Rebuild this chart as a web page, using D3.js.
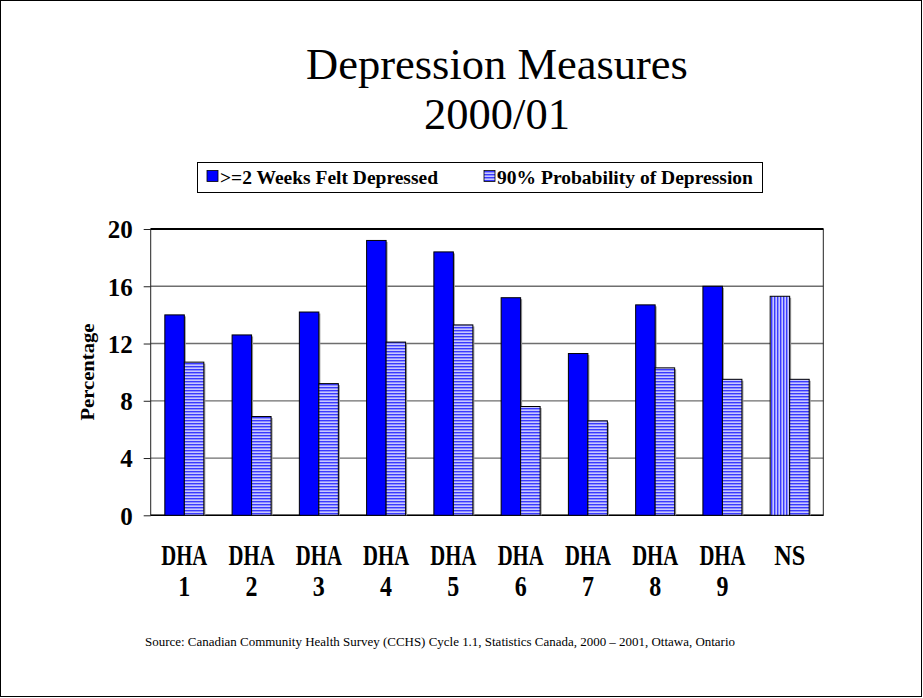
<!DOCTYPE html>
<html><head><meta charset="utf-8">
<script src="https://cdn.jsdelivr.net/npm/d3@7"></script>
<style>body{margin:0;background:#fff}svg{display:block}</style>
</head><body>
<svg id="c" width="923" height="698"></svg>
<script>
const categories = ["DHA 1","DHA 2","DHA 3","DHA 4","DHA 5","DHA 6","DHA 7","DHA 8","DHA 9","NS"];
const seriesNames = [">=2 Weeks Felt Depressed","90% Probability of Depression"];
const feltDepressed = [14.0,12.6,14.2,19.2,18.4,15.2,11.3,14.7,16.0,15.3];
const probDepression = [10.7,6.9,9.2,12.1,13.3,7.6,6.6,10.3,9.5,9.5];
const yTicks = [0,4,8,12,16,20];
const titleLines = ["Depression Measures","2000/01"];
const sourceText = "Source:  Canadian Community Health Survey (CCHS) Cycle 1.1, Statistics Canada, 2000 \u2013 2001, Ottawa, Ontario";

const svg = d3.select("#c");
const serif = "'Liberation Serif','Times New Roman',serif";
const defs = svg.append("defs");
const ph = defs.append("pattern").attr("id","hstripe").attr("patternUnits","userSpaceOnUse").attr("width",4).attr("height",3);
ph.append("rect").attr("width",4).attr("height",3).attr("fill","#c8c8ff");
ph.append("rect").attr("y",0).attr("width",4).attr("height",1.4).attr("fill","#3a3aff");
const pv = defs.append("pattern").attr("id","vstripe").attr("patternUnits","userSpaceOnUse").attr("width",3).attr("height",4);
pv.append("rect").attr("width",3).attr("height",4).attr("fill","#c8c8ff");
pv.append("rect").attr("x",0).attr("width",1.4).attr("height",4).attr("fill","#3a3aff");

svg.append("rect").attr("x",0.5).attr("y",0.5).attr("width",921).attr("height",696).attr("fill","none").attr("stroke","#000");

svg.append("text").attr("x",497).attr("y",79).attr("text-anchor","middle").attr("font-family",serif).attr("font-size",44.5).text(titleLines[0]);
svg.append("text").attr("x",497).attr("y",129).attr("text-anchor","middle").attr("font-family",serif).attr("font-size",44.5).text(titleLines[1]);

const m = {l:150.7, r:823.3, t:229, b:515.3};
const x = d3.scaleBand().domain(categories).range([m.l,m.r]).paddingInner(0).paddingOuter(0);
const y = d3.scaleLinear().domain([0,20]).range([m.b,m.t]);
const bw = 19.5;

svg.append("g").selectAll("line").data(yTicks.filter(t=>t>0&&t<20)).join("line")
  .attr("x1",m.l).attr("x2",m.r).attr("y1",d=>y(d)).attr("y2",d=>y(d))
  .attr("stroke","#6e6e6e").attr("stroke-width",1.3);

const yAxis = d3.axisLeft(y).tickValues(yTicks).tickSize(7).tickPadding(11).tickFormat(d3.format("d"));
const ga = svg.append("g").attr("transform",`translate(${m.l},0)`).call(yAxis);
ga.select(".domain").remove();
ga.selectAll(".tick line").attr("stroke","#222");
ga.selectAll(".tick text").attr("font-family",serif).attr("font-weight","bold").attr("font-size",25).attr("fill","#000").attr("dy","0.35em");

svg.append("rect").attr("x",m.l).attr("y",m.t).attr("width",m.r-m.l).attr("height",m.b-m.t).attr("fill","none").attr("stroke","#222").attr("stroke-width",1);
svg.append("line").attr("x1",m.l).attr("x2",m.r).attr("y1",m.t).attr("y2",m.t).attr("stroke","#000").attr("stroke-width",2);
svg.append("line").attr("x1",m.l).attr("x2",m.r).attr("y1",m.b).attr("y2",m.b).attr("stroke","#000").attr("stroke-width",1.5);

const bars = [];
categories.forEach((c,i)=>{
  const cx = x(c) + x.bandwidth()/2;
  bars.push({c, x: cx-bw, v: feltDepressed[i], fill: c==="NS" ? "url(#vstripe)" : "#0000ff"});
  bars.push({c, x: cx, v: probDepression[i], fill: "url(#hstripe)"});
});
const gb = svg.append("g");
gb.selectAll("rect.sh").data(bars).join("rect").attr("class","sh")
  .attr("x",d=>d.x+1.5).attr("y",d=>y(d.v)+1.5).attr("width",bw).attr("height",d=>y(0)-y(d.v)-1.5)
  .attr("fill","#9a9a9a");
gb.selectAll("rect.b").data(bars).join("rect").attr("class","b")
  .attr("x",d=>d.x).attr("y",d=>y(d.v)).attr("width",bw).attr("height",d=>y(0)-y(d.v))
  .attr("fill",d=>d.fill).attr("stroke","#000").attr("stroke-width",1);

const gx = svg.append("g");
categories.forEach(c=>{
  const cx = x(c)+x.bandwidth()/2;
  const parts = c.split(" ");
  parts.forEach((p,j)=>{
    const t = gx.append("text").attr("x",cx).attr("y",565+j*31).attr("text-anchor","middle")
      .attr("font-family",serif).attr("font-weight","bold").attr("font-size",29).text(p);
    if (p.length > 1) t.attr("textLength", p==="NS" ? 31 : 46).attr("lengthAdjust","spacingAndGlyphs");
    else t.attr("textLength",12).attr("lengthAdjust","spacingAndGlyphs");
  });
});

svg.append("text").attr("transform","translate(94,372) rotate(-90)").attr("text-anchor","middle")
  .attr("font-family",serif).attr("font-weight","bold").attr("font-size",18)
  .attr("textLength",97).attr("lengthAdjust","spacingAndGlyphs").text("Percentage");

svg.append("rect").attr("x",197.5).attr("y",162.5).attr("width",565).attr("height",30).attr("fill","#fff").attr("stroke","#000");
const lg = [{x:207, fill:"#0000ff", t:seriesNames[0], w:218},{x:484, fill:"url(#hstripe)", t:seriesNames[1], w:256}];
lg.forEach(l=>{
  svg.append("rect").attr("x",l.x).attr("y",170.5).attr("width",11).attr("height",11).attr("fill",l.fill).attr("stroke","#000").attr("stroke-width",0.8);
  svg.append("text").attr("x",l.x+13).attr("y",184).attr("font-family",serif).attr("font-weight","bold").attr("font-size",18.5)
    .attr("textLength",l.w).attr("lengthAdjust","spacingAndGlyphs").text(l.t);
});

svg.append("text").attr("x",145).attr("y",646).attr("font-family",serif).attr("font-size",12)
  .attr("textLength",590).attr("lengthAdjust","spacingAndGlyphs").text(sourceText);
</script>
</body></html>
